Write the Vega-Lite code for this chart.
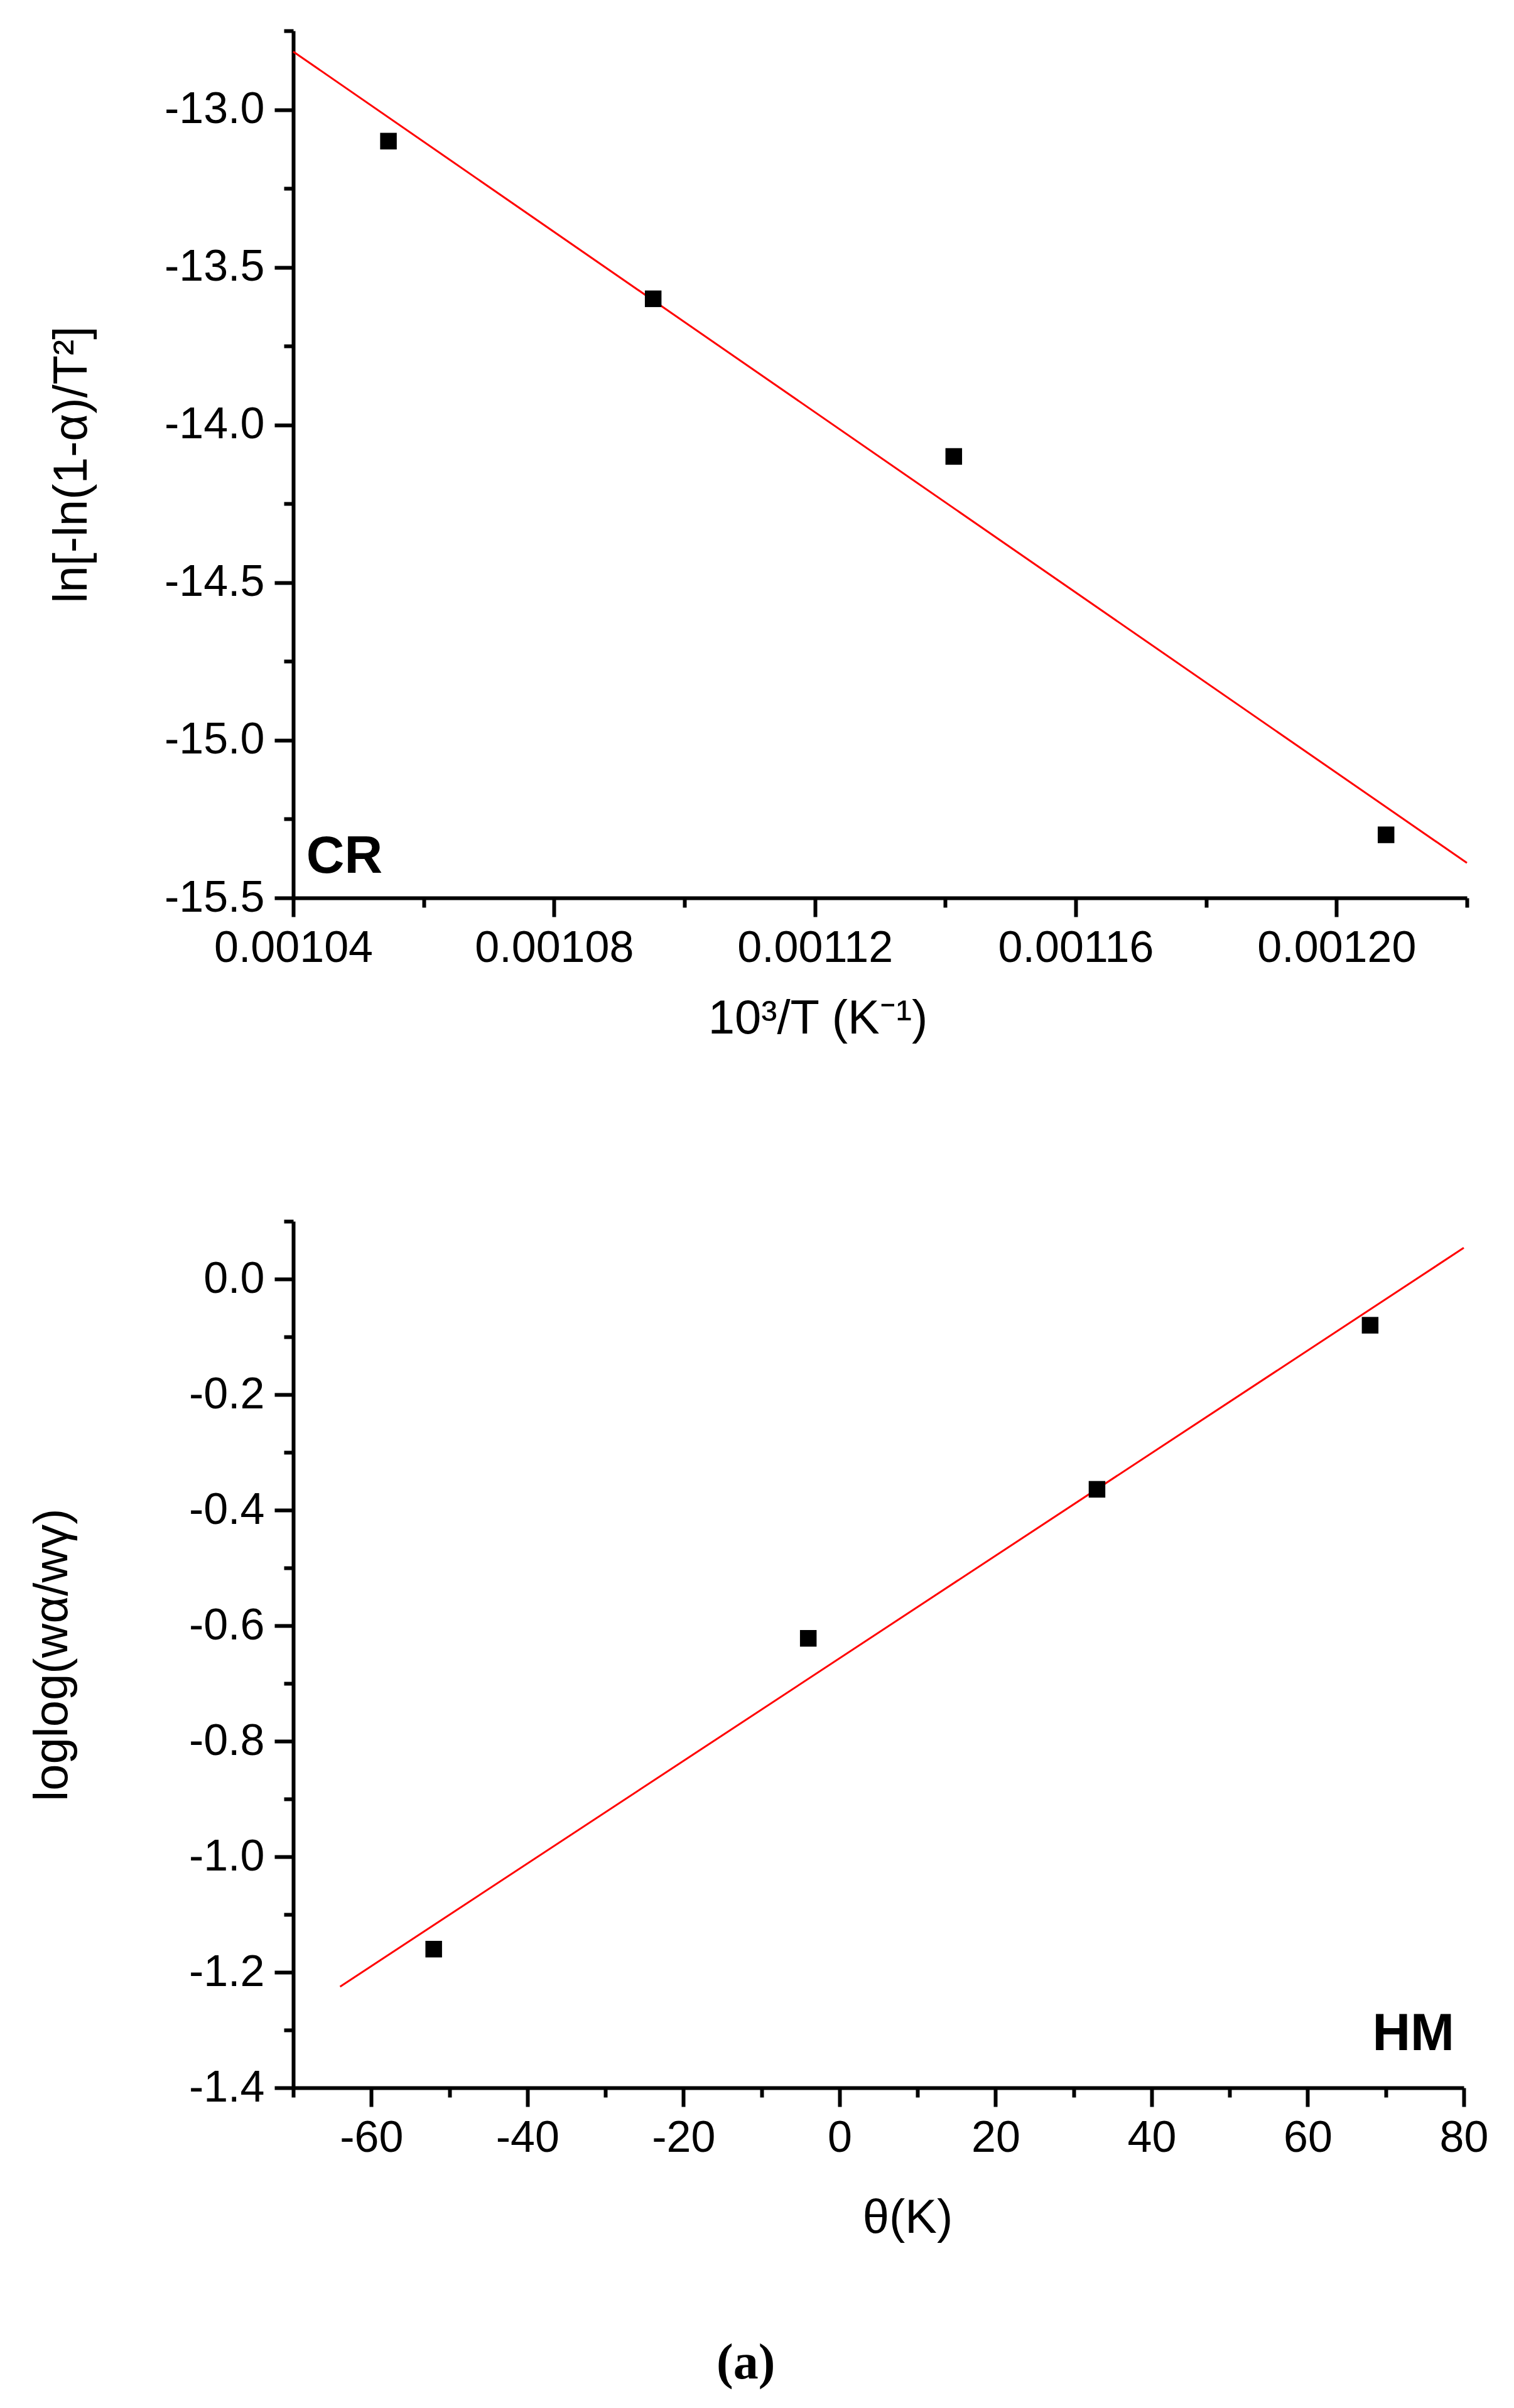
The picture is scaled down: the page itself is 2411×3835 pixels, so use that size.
{
  "$schema": "https://vega.github.io/schema/vega-lite/v6.json",
  "background": "white",
  "padding": {"left": 45, "top": 14, "right": 20, "bottom": 20},
  "datasets": {
    "cr_points": [
      {"x": 0.0010546, "y": -13.1},
      {"x": 0.0010952, "y": -13.6},
      {"x": 0.0011413, "y": -14.1},
      {"x": 0.0012076, "y": -15.3}
    ],
    "cr_fit": [
      {"x": 0.00104, "y": -12.816},
      {"x": 0.00122, "y": -15.389}
    ],
    "hm_points": [
      {"x": -52, "y": -1.16},
      {"x": -4, "y": -0.622},
      {"x": 33, "y": -0.364},
      {"x": 68, "y": -0.08}
    ],
    "hm_fit": [
      {"x": -64, "y": -1.225},
      {"x": 80, "y": 0.054}
    ]
  },
  "spacing": 250,
  "vconcat": [
    {
      "width": 1869,
      "height": 1381,
      "layer": [
        {
          "data": {"name": "cr_fit"},
          "mark": {"type": "line", "color": "#ff0000", "strokeWidth": 3},
          "encoding": {
            "x": {
              "field": "x",
              "type": "quantitative",
              "scale": {"domain": [0.00104, 0.00122], "nice": false, "zero": false},
              "axis": {
                "title": "10³/T (K⁻¹)",
                "titlePadding": 40,
                "titleX": 835,
                "values": [0.00104, 0.00106, 0.00108, 0.0011, 0.00112, 0.00114, 0.00116, 0.00118, 0.0012, 0.00122],
                "labelExpr": "round(datum.value * 100000) % 4 == 0 ? format(datum.value, '.5f') : ''",
                "tickSize": {"condition": {"test": "round(datum.value * 100000) % 4 == 0", "value": 30}, "value": 15}
              }
            },
            "y": {
              "field": "y",
              "type": "quantitative",
              "scale": {"domain": [-15.5, -12.75], "nice": false, "zero": false},
              "axis": {
                "title": "ln[-ln(1-α)/T²]",
                "titlePadding": 114,
                "values": [-15.5, -15.25, -15, -14.75, -14.5, -14.25, -14, -13.75, -13.5, -13.25, -13, -12.75],
                "labelExpr": "round(datum.value * 4) % 2 == 0 ? replace(format(datum.value, '.1f'), '\u2212', '-') : ''",
                "tickSize": {"condition": {"test": "round(datum.value * 4) % 2 == 0", "value": 30}, "value": 15}
              }
            }
          }
        },
        {
          "data": {"name": "cr_points"},
          "mark": {"type": "point", "shape": "square", "filled": true, "size": 700, "color": "black", "opacity": 1},
          "encoding": {
            "x": {"field": "x", "type": "quantitative", "title": "10³/T (K⁻¹)"},
            "y": {"field": "y", "type": "quantitative", "title": "ln[-ln(1-α)/T²]"}
          }
        },
        {
          "data": {"values": [{"label": "CR"}]},
          "mark": {"type": "text", "font": "Liberation Sans", "fontSize": 84, "fontWeight": "bold", "align": "left", "baseline": "alphabetic", "color": "black"},
          "encoding": {
            "x": {"datum": 0.001042, "type": "quantitative"},
            "y": {"datum": -15.42, "type": "quantitative"},
            "text": {"field": "label", "type": "nominal"}
          }
        }
      ]
    },
    {
      "width": 1864,
      "height": 1380,
      "layer": [
        {
          "data": {"name": "hm_fit"},
          "mark": {"type": "line", "color": "#ff0000", "strokeWidth": 3},
          "encoding": {
            "x": {
              "field": "x",
              "type": "quantitative",
              "scale": {"domain": [-70, 80], "nice": false, "zero": false},
              "axis": {
                "title": "θ(K)",
                "titlePadding": 55,
                "titleX": 978,
                "values": [-70, -60, -50, -40, -30, -20, -10, 0, 10, 20, 30, 40, 50, 60, 70, 80],
                "labelExpr": "round(datum.value / 10) % 2 == 0 ? replace(format(datum.value, 'd'), '\u2212', '-') : ''",
                "tickSize": {"condition": {"test": "round(datum.value / 10) % 2 == 0", "value": 30}, "value": 15}
              }
            },
            "y": {
              "field": "y",
              "type": "quantitative",
              "scale": {"domain": [-1.4, 0.1], "nice": false, "zero": false},
              "axis": {
                "title": "loglog(wα/wγ)",
                "titlePadding": 178,
                "values": [-1.4, -1.3, -1.2, -1.1, -1, -0.9, -0.8, -0.7, -0.6, -0.5, -0.4, -0.3, -0.2, -0.1, 0, 0.1],
                "labelExpr": "round(datum.value * 10) % 2 == 0 ? replace(format(datum.value, '.1f'), '\u2212', '-') : ''",
                "tickSize": {"condition": {"test": "round(datum.value * 10) % 2 == 0", "value": 30}, "value": 15}
              }
            }
          }
        },
        {
          "data": {"name": "hm_points"},
          "mark": {"type": "point", "shape": "square", "filled": true, "size": 700, "color": "black", "opacity": 1},
          "encoding": {
            "x": {"field": "x", "type": "quantitative", "title": "θ(K)"},
            "y": {"field": "y", "type": "quantitative", "title": "loglog(wα/wγ)"}
          }
        },
        {
          "data": {"values": [{"label": "HM"}]},
          "mark": {"type": "text", "font": "Liberation Sans", "fontSize": 84, "fontWeight": "bold", "align": "right", "baseline": "alphabetic", "color": "black"},
          "encoding": {
            "x": {"datum": 78.8, "type": "quantitative"},
            "y": {"datum": -1.335, "type": "quantitative"},
            "text": {"field": "label", "type": "nominal"}
          }
        }
      ]
    }
  ],
  "title": {
    "text": "(a)",
    "orient": "bottom",
    "anchor": "middle",
    "font": "Liberation Serif",
    "fontSize": 80,
    "fontWeight": "bold",
    "color": "black",
    "offset": 155,
    "dx": -20
  },
  "config": {
    "view": {"stroke": null},
    "axis": {
      "grid": false,
      "domainColor": "black",
      "domainWidth": 6,
      "tickColor": "black",
      "tickWidth": 6,
      "labelFont": "Liberation Sans",
      "labelFontSize": 70,
      "labelColor": "black",
      "labelPadding": 16,
      "labelLimit": 1000,
      "labelFlush": false,
      "labelOverlap": false,
      "labelBound": false,
      "titleFont": "Liberation Sans",
      "titleFontSize": 76,
      "titleFontWeight": "normal",
      "titleColor": "black"
    }
  }
}
